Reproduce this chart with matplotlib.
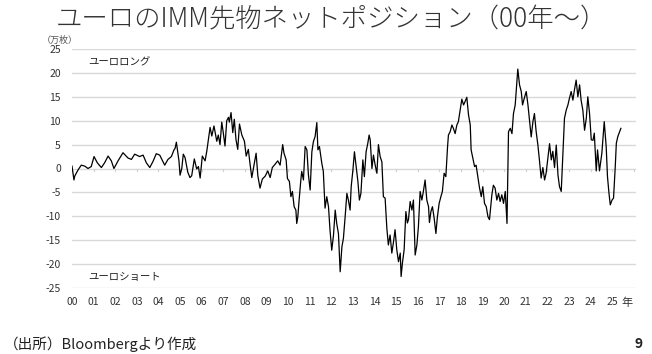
import matplotlib
matplotlib.use("Agg")
import matplotlib.pyplot as plt
import numpy as np

plt.rcParams['font.family'] = ['Noto Sans CJK JP', 'DejaVu Sans']

# decimal years (2000 + offset) and net position (万枚)
year_offset = [
    0.00, 0.09, 0.125, 0.28, 0.43, 0.59, 0.74, 0.89, 1.02, 1.17, 1.36, 1.51, 1.67, 1.82, 1.94,
    2.13, 2.36, 2.59, 2.75, 2.90, 3.13, 3.29, 3.44, 3.60, 3.75, 3.90, 4.06, 4.29, 4.44, 4.60,
    4.72, 4.77, 4.83, 4.95, 5.00, 5.08, 5.15, 5.23, 5.36, 5.46, 5.54, 5.66, 5.77, 5.85, 5.93,
    6.03, 6.16, 6.24, 6.31, 6.39, 6.47, 6.57, 6.70, 6.77, 6.85, 6.93, 7.00, 7.08, 7.16, 7.24,
    7.28, 7.36, 7.44, 7.51, 7.59, 7.67, 7.75, 7.86, 7.98, 8.06, 8.16, 8.24, 8.32, 8.44, 8.52,
    8.60, 8.70, 8.81, 8.94, 9.06, 9.17, 9.27, 9.40, 9.52, 9.63, 9.75, 9.81, 9.91, 9.97,
    10.06, 10.13, 10.20, 10.28, 10.36, 10.40, 10.45, 10.51, 10.59, 10.63, 10.71, 10.79, 10.87, 10.94,
    11.02, 11.10, 11.17, 11.25, 11.33, 11.38, 11.45, 11.56, 11.63, 11.71, 11.79, 11.87, 11.94,
    12.02, 12.10, 12.18, 12.25, 12.33, 12.41, 12.49, 12.56, 12.64, 12.72, 12.79, 12.87, 12.92,
    13.00, 13.07, 13.15, 13.23, 13.30, 13.37, 13.46, 13.53, 13.61, 13.69, 13.75, 13.80, 13.88, 13.95,
    14.03, 14.11, 14.18, 14.26, 14.34, 14.41, 14.49, 14.57, 14.64, 14.72, 14.80, 14.88, 14.95,
    15.03, 15.11, 15.19, 15.23, 15.29, 15.37, 15.45, 15.52, 15.57, 15.65, 15.73, 15.80, 15.88, 15.96,
    16.03, 16.11, 16.19, 16.26, 16.34, 16.42, 16.50, 16.54, 16.61, 16.68, 16.76, 16.84, 16.91, 16.99,
    17.07, 17.14, 17.22, 17.30, 17.38, 17.42, 17.50, 17.58, 17.65, 17.73, 17.81, 17.88, 17.96,
    18.04, 18.12, 18.19, 18.27, 18.35, 18.43, 18.47, 18.55, 18.63, 18.70, 18.78, 18.86, 18.94,
    19.01, 19.09, 19.17, 19.25, 19.32, 19.43, 19.50, 19.58, 19.66, 19.74, 19.81, 19.89, 19.97,
    20.05, 20.13, 20.20, 20.28, 20.36, 20.43, 20.51, 20.59, 20.63, 20.71, 20.79, 20.85, 20.93,
    21.02, 21.10, 21.17, 21.25, 21.33, 21.40, 21.48, 21.56, 21.63, 21.71, 21.79, 21.87, 21.94,
    22.02, 22.10, 22.18, 22.25, 22.33, 22.41, 22.49, 22.56, 22.64, 22.72, 22.79, 22.87, 22.95,
    23.02, 23.10, 23.18, 23.25, 23.33, 23.41, 23.49, 23.56, 23.64, 23.72, 23.80, 23.87, 23.95,
    24.03, 24.11, 24.17, 24.26, 24.32, 24.41, 24.52, 24.63, 24.72, 24.78, 24.85, 24.91, 24.99,
    25.06, 25.14, 25.19, 25.26, 25.34, 25.40,
]
net_position = [
    0.5, -2.4, -1.6, -0.3, 0.7, 0.5, 0.0, 0.4, 2.5, 1.2, 0.2, 1.2, 2.6, 1.6, 0.0,
    1.6, 3.3, 2.2, 1.9, 3.0, 2.5, 2.8, 1.2, 0.2, 1.5, 3.1, 2.8, 0.7, 1.9, 2.5,
    3.9, 4.2, 5.5, 1.6, -1.4, 0.0, 3.0, 2.3, -0.8, -1.9, -1.5, 2.0, -0.1, 0.4, -2.0,
    2.6, 1.6, 3.7, 6.0, 8.6, 6.8, 8.9, 5.7, 7.0, 5.0, 9.7, 7.5, 4.7, 10.0, 10.7,
    9.7, 11.7, 7.5, 10.3, 6.0, 4.0, 9.3, 7.0, 5.7, 2.6, 4.0, 0.9, -1.9, 1.2, 3.2,
    -1.5, -4.1, -2.2, -1.6, -0.5, -1.9, 0.2, 0.9, 1.6, 0.7, 5.0, 3.2, 1.8, -2.1,
    -2.7, -5.9, -4.8, -8.0, -8.7, -11.5, -10.1, -6.6, -2.4, -0.6, -2.4, 4.6, 3.9, -1.3,
    -4.5, 3.5, 5.6, 6.7, 9.6, 3.9, 4.6, 1.1, -0.6, -8.3, -5.9, -8.0, -12.9,
    -17.1, -14.0, -8.7, -11.5, -13.6, -21.6, -16.4, -14.6, -10.1, -5.2, -6.6, -8.7, -3.8,
    -0.3, 3.5, 0.4, -2.7, -6.6, -5.2, 1.8, -1.7, 3.5, 5.3, 7.0, 6.0, 0.0, 2.8,
    0.7, -1.0, 5.0, 2.5, 1.4, -5.9, -6.2, -12.5, -16.0, -13.9, -17.7, -15.3, -12.8,
    -17.0, -19.5, -17.7, -22.6, -19.8, -17.0, -9.0, -11.4, -10.7, -6.9, -8.7, -6.6, -18.1, -16.0,
    -12.2, -4.8, -6.6, -4.8, -2.4, -6.6, -8.0, -11.3, -9.0, -8.0, -10.4, -13.6, -10.1, -7.3,
    -5.9, -4.8, -1.0, -1.7, 4.6, 7.0, 7.7, 9.1, 8.4, 7.3, 9.1, 9.8, 12.2,
    14.5, 13.3, 14.0, 14.9, 11.2, 9.1, 3.9, 2.1, 0.4, 0.7, -1.7, -4.1, -5.9,
    -3.8, -7.3, -8.0, -10.1, -10.7, -5.5, -3.5, -4.1, -6.6, -5.2, -6.9, -5.5, -7.3,
    -4.8, -11.5, 7.7, 8.4, 7.3, 11.5, 13.3, 18.5, 20.8, 17.5, 16.1, 13.3, 14.7,
    16.1, 13.3, 10.1, 6.6, 9.8, 11.5, 7.7, 4.9, 1.8, -2.0, 0.2, -2.4, -1.0,
    2.1, 5.2, 1.8, 3.6, 0.2, 4.9, -1.4, -3.8, -4.8, 3.6, 10.5, 12.2, 13.3,
    14.7, 16.1, 14.3, 16.4, 18.5, 15.0, 17.5, 14.3, 12.2, 8.0, 10.5, 15.0, 11.5,
    6.0, 5.9, 7.4, -0.5, 3.9, -0.5, 3.2, 9.8, 4.6, -1.7, -5.2, -7.6, -6.6,
    -6.2, 0.4, 5.3, 6.7, 7.7, 8.4,
]
year_labels = [f"{y:02d}" for y in range(0, 26)]
y_ticks = list(range(-25, 30, 5))

title = "ユーロのIMM先物ネットポジション（00年〜）"

fig = plt.figure(figsize=(6.52, 3.54), dpi=100)
fig.patch.set_facecolor("white")

W, H = 652, 354
ax = fig.add_axes([72 / W, 1 - 288 / H, (636 - 72) / W, (288 - 49) / H])

x = 2000 + np.array(year_offset)
ax.plot(x, net_position, color="black", lw=0.9, zorder=3)

ax.set_xlim(2000, 2026.1)
ax.set_ylim(-25, 25)
ax.set_yticks(y_ticks)
ax.set_yticklabels([str(v) for v in y_ticks], fontsize=7.5, color="#333333")
ax.tick_params(axis="y", length=0, pad=8)
ax.set_xticks([])
for s in ax.spines.values():
    s.set_visible(False)
for v in y_ticks:
    ax.axhline(v, color="#d9d9d9", lw=1.0, zorder=1)

# year tick marks on the zero line
for i in range(len(year_labels) + 1):
    ax.plot([2000 + i, 2000 + i], [0, -0.6], color="#d0d0d0", lw=0.8, zorder=2)

trans = ax.get_xaxis_transform()
for i, lab in enumerate(year_labels):
    ax.text(2000 + i, -0.06, lab, transform=trans, ha="center", va="center",
            fontsize=7.5, color="#333333")
ax.text(2025.7, -0.06, "年", transform=trans, ha="center", va="center",
        fontsize=8, color="#333333")

ax.text(2000.75, 22.2, "ユーロロング", fontsize=7.5, va="center", ha="left", color="#222222")
ax.text(2000.75, -22.6, "ユーロショート", fontsize=7.5, va="center", ha="left", color="#222222")

fig.text(42 / W, 1 - 40 / H, "（万枚）", fontsize=6.5, ha="left", va="center", color="#555555")
fig.text(331 / W, 1 - 19 / H, title, fontsize=19, ha="center", va="center", color="#333333",
         fontweight="light")

fig.text(4 / W, 1 - 344 / H, "（出所）Bloombergより作成", fontsize=10.5, ha="left", va="center",
         color="#222222")
fig.text(643 / W, 1 - 344 / H, "9", fontsize=10, ha="right", va="center", color="#222222",
         fontweight="bold")

fig.savefig("out.png", dpi=100, facecolor="white")
